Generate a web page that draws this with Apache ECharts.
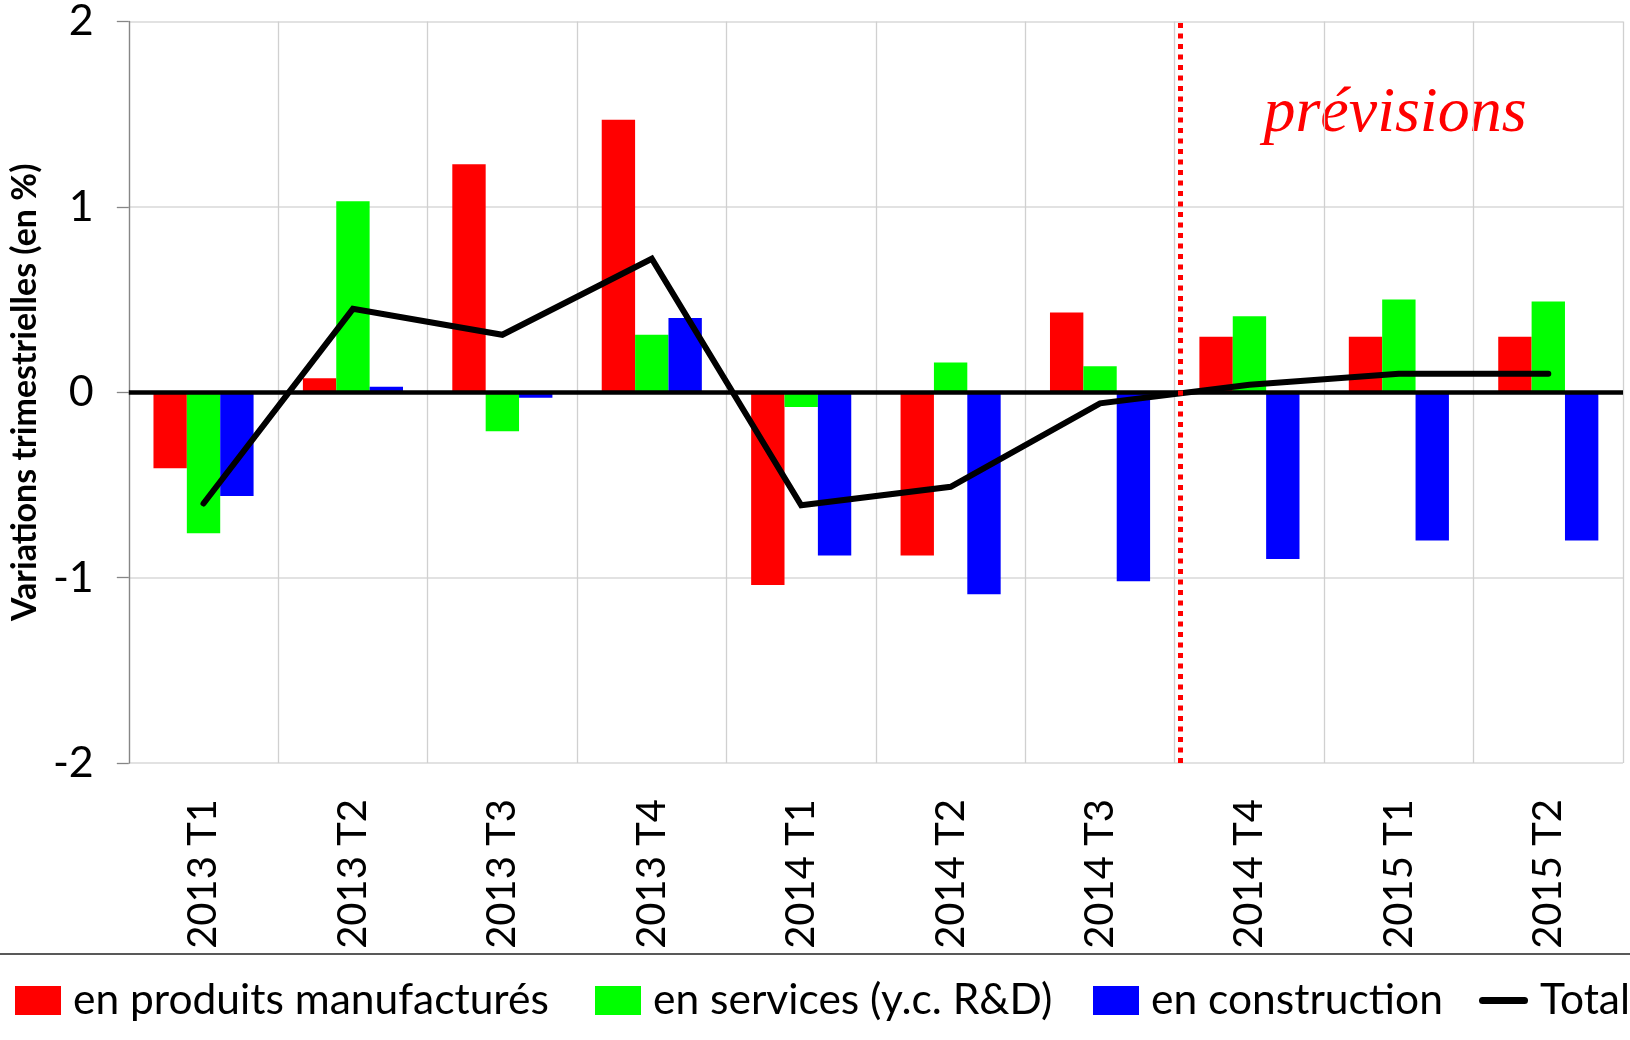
<!DOCTYPE html>
<html>
<head>
<meta charset="utf-8">
<script src="https://cdn.jsdelivr.net/npm/echarts@6/dist/echarts.min.js"></script>
<style>
  html, body { margin: 0; padding: 0; background: #fff; }
  #chart { width: 1630px; height: 1040px; }
</style>
</head>
<body>
<div id="chart"></div>
<script>
// trimestres
const categories = ['2013 T1', '2013 T2', '2013 T3', '2013 T4', '2014 T1', '2014 T2', '2014 T3', '2014 T4', '2015 T1', '2015 T2'];
// variations trimestrielles (en %)
const manufactures = [-0.41, 0.075, 1.23, 1.47, -1.04, -0.88, 0.43, 0.30, 0.30, 0.30];
const services = [-0.76, 1.03, -0.21, 0.31, -0.08, 0.16, 0.14, 0.41, 0.50, 0.49];
const construction = [-0.56, 0.03, -0.03, 0.40, -0.88, -1.09, -1.02, -0.90, -0.80, -0.80];
const total = [-0.60, 0.45, 0.31, 0.72, -0.61, -0.51, -0.06, 0.04, 0.10, 0.10];
const seriesNames = ['en produits manufacturés', 'en services (y.c. R&D)', 'en construction', 'Total'];
const yMin = -2, yMax = 2, yStep = 1;
// début des prévisions (entre 2014 T3 et 2014 T4)
const forecastStart = 6.537;

const sans = 'Lato';
const chart = echarts.init(document.getElementById('chart'));

const legendText = { fontSize: 42.5, color: '#000', fontFamily: sans, padding: [0, 0, 0, 7] };
function legendAt(left, name, extra) {
  return Object.assign({
    left: left, top: 979, itemWidth: 46, itemHeight: 29, icon: 'rect',
    padding: 0, data: [name], textStyle: legendText
  }, extra || {});
}

const option = {
  animation: false,
  backgroundColor: '#fff',
  grid: { left: 119, right: 7, top: 21, bottom: 277, containLabel: false },
  xAxis: [
    {
      type: 'category',
      data: categories,
      axisLine: { show: false, onZero: false },
      axisTick: { show: false },
      axisLabel: { rotate: 90, margin: 36, fontSize: 40, color: '#000', fontFamily: sans, interval: 0 },
      splitLine: { show: true, interval: 0, lineStyle: { color: '#d0d0d0', width: 1.3 } }
    },
    { type: 'value', min: -0.5, max: 9.5, show: false }
  ],
  yAxis: {
    type: 'value',
    min: yMin, max: yMax, interval: yStep,
    name: 'Variations trimestrielles (en %)',
    nameLocation: 'middle',
    nameGap: 77,
    nameRotate: 90,
    nameTextStyle: { fontSize: 34, fontWeight: 'bold', fontFamily: sans, color: '#000' },
    axisLine: { show: true, onZero: false, lineStyle: { color: '#868686', width: 1.3 } },
    axisTick: { show: true, length: 12, lineStyle: { color: '#868686', width: 1.3 } },
    axisLabel: { fontSize: 43, margin: 35, color: '#000', fontFamily: sans },
    splitLine: { lineStyle: { color: '#d9d9d9', width: 1.5 } }
  },
  legend: [
    legendAt(15, seriesNames[0]),
    legendAt(595, seriesNames[1]),
    legendAt(1093, seriesNames[2]),
    legendAt(1479, seriesNames[3], {
      itemWidth: 49, symbolKeepAspect: true,
      icon: 'path://M3.5,0 L45.5,0 A3.5,3.5 0 0 1 45.5,7 L3.5,7 A3.5,3.5 0 0 1 3.5,0 Z'
    })
  ],
  series: [
    {
      name: seriesNames[0], type: 'bar', data: manufactures,
      barGap: '0%', barCategoryGap: '33%',
      itemStyle: { color: '#ff0000' },
      markLine: {
        silent: true, symbol: 'none', z: 5,
        label: { show: false },
        lineStyle: { color: '#000', width: 4.5, type: 'solid' },
        data: [{ yAxis: 0 }]
      }
    },
    {
      name: seriesNames[1], type: 'bar', data: services,
      barGap: '0%', barCategoryGap: '33%',
      itemStyle: { color: '#00ff00' }
    },
    {
      name: seriesNames[2], type: 'bar', data: construction,
      barGap: '0%', barCategoryGap: '33%',
      itemStyle: { color: '#0000ff' }
    },
    {
      name: seriesNames[3], type: 'line', data: total,
      symbol: 'none', z: 4,
      itemStyle: { color: '#000' },
      lineStyle: { color: '#000', width: 6, cap: 'round', join: 'miter' }
    },
    {
      type: 'scatter', xAxisIndex: 1, data: [],
      markLine: {
        silent: true, symbol: 'none', z: 6,
        label: { show: false },
        lineStyle: { color: '#ff0000', width: 5, type: [5, 5.5], cap: 'butt' },
        data: [{ xAxis: forecastStart }]
      }
    }
  ],
  graphic: [
    {
      type: 'line', silent: true,
      shape: { x1: 0, y1: 954, x2: 1630, y2: 954 },
      style: { stroke: '#222', lineWidth: 1.5 }
    },
    {
      type: 'text', x: 1395, y: 114,
      style: {
        text: 'prévisions', fill: '#ff0000',
        fontSize: 64, fontStyle: 'italic', fontFamily: 'Liberation Serif',
        align: 'center', verticalAlign: 'middle'
      }
    }
  ]
};

chart.setOption(option);
window.addEventListener('resize', () => {
  chart.resize();
});
</script>
</body>
</html>
